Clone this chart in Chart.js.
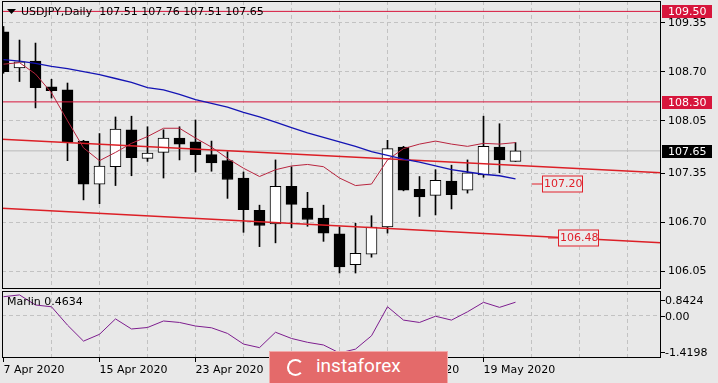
<!DOCTYPE html>
<html>
<head>
<meta charset="utf-8">
<script src="https://cdn.jsdelivr.net/npm/chart.js@4.4.1/dist/chart.umd.min.js"></script>
<style>
  html, body { margin: 0; padding: 0; background: #e8e8e8; }
  #wrap { position: relative; width: 718px; height: 383px; overflow: hidden; background: #e8e8e8; }
  #price { position: absolute; left: 0; top: 0; }
  #osc { position: absolute; left: 0; top: 289px; }
  #logo { position: absolute; left: 269px; top: 351px; width: 179px; height: 33px; box-sizing: border-box;
          background: #e46a6a; border: 1px solid #f2a9a9; }
  #logo .ring { position: absolute; left: 17px; top: 7px; width: 13px; height: 13px; border: 2px solid #fff;
                border-radius: 50%; border-right-color: transparent; }
  #logo .txt { position: absolute; left: 46px; top: 3px; color: #fff; font: 19px Roboto, sans-serif; line-height: 22px; }
</style>
</head>
<body>
<div id="wrap">
  <canvas id="price" width="718" height="291"></canvas>
  <canvas id="osc" width="718" height="94"></canvas>
  <div id="logo"><span class="ring"></span><span class="txt">instaforex</span></div>
</div>
<script>
// USDJPY daily, 7 Apr - 21 May 2020
const opens  = [109.23, 108.75, 108.84, 108.50, 108.46, 107.78, 107.21, 107.44, 107.93, 107.55, 107.63,
                107.82, 107.77, 107.60, 107.52, 107.29, 106.86, 106.68, 107.18, 106.89, 106.76, 106.55,
                106.14, 106.28, 106.64, 107.70, 107.14, 107.06, 107.25, 107.13, 107.33, 107.70, 107.51];
const highs  = [109.30, 109.12, 109.08, 108.60, 108.55, 107.79, 107.88, 108.10, 108.11, 107.97, 107.93,
                107.97, 108.06, 107.78, 107.64, 107.37, 106.93, 107.53, 107.44, 107.10, 106.93, 106.64,
                106.69, 106.79, 107.79, 107.71, 107.31, 107.40, 107.46, 107.53, 108.11, 108.01, 107.76];
const lows   = [108.68, 108.57, 108.22, 108.35, 107.52, 107.00, 106.95, 107.19, 107.32, 107.51, 107.29,
                107.53, 107.37, 107.38, 107.02, 106.57, 106.38, 106.43, 106.63, 106.65, 106.45, 106.03,
                106.03, 106.24, 106.56, 107.12, 106.78, 106.80, 106.88, 107.09, 107.30, 107.36, 107.51];
const closes = [108.70, 108.83, 108.49, 108.45, 107.77, 107.21, 107.45, 107.94, 107.56, 107.62, 107.82,
                107.74, 107.60, 107.49, 107.27, 106.87, 106.66, 107.18, 106.94, 106.74, 106.56, 106.11,
                106.29, 106.64, 107.68, 107.13, 107.04, 107.26, 107.07, 107.36, 107.71, 107.53, 107.65];

// moving averages
const maSlow = [108.86, 108.84, 108.81, 108.77, 108.74, 108.70, 108.66, 108.61, 108.56, 108.49, 108.46,
                108.40, 108.33, 108.28, 108.23, 108.16, 108.10, 108.03, 107.96, 107.89, 107.83, 107.77,
                107.71, 107.64, 107.59, 107.54, 107.50, 107.45, 107.40, 107.37, 107.34, 107.32, 107.28];
const maFast = [108.80, 108.82, 108.67, 108.42, 108.05, 107.69, 107.52, 107.63, 107.75, 107.84, 107.95,
                107.95, 107.82, 107.70, 107.55, 107.42, 107.31, 107.40, 107.45, 107.47, 107.44, 107.29,
                107.19, 107.21, 107.53, 107.68, 107.74, 107.78, 107.74, 107.71, 107.75, 107.74, 107.76];

// Marlin oscillator
const marlin = [0.65, 0.71, 0.37, 0.31, -0.31, -0.85, -0.62, -0.10, -0.44, -0.39, -0.17,
                -0.22, -0.34, -0.40, -0.59, -0.95, -1.07, -0.55, -0.76, -0.89, -0.98, -1.25,
                -1.12, -0.67, 0.31, -0.14, -0.22, -0.01, -0.14, 0.14, 0.46, 0.29, 0.4634];

const priceTicks = [106.05, 106.70, 107.35, 108.05, 108.70, 109.35];
const marlinTicks = [0.8424, 0, -1.4198];
const dateTickIdx = [0, 6, 12, 18, 24, 30];
const dateTickText = ['7 Apr 2020', '15 Apr 2020', '23 Apr 2020', '1 May 2020', '11 May 2020', '19 May 2020'];

const levels = [109.50, 108.30];
const lastPrice = 107.65;
const trendIdx = [-1, 42];
const upperTrend = [107.813, 107.351];
const lowerTrend = [106.898, 106.423];
const lineLabels = ['107.20', '106.48'];

const FONT = 'DejaVu Sans';
const X_MIN = -0.09375, X_MAX = 41.09375;
const GRID = '#c2c2c2';
const CRIMSON = '#d7163c';

Chart.defaults.font.family = FONT;
Chart.defaults.font.size = 11;
Chart.defaults.color = '#000';

const idx = opens.map((_, i) => i);
const gridIdx = [];
for (let i = 0; i <= 39; i += 3) gridIdx.push(i);

const flat = v => [{ x: X_MIN - 1, y: v }, { x: X_MAX + 1, y: v }];
const lineDs = (data, color, width, order) => ({
    type: 'line', data, borderColor: color, borderWidth: width,
    pointRadius: 0, tension: 0, order
});

// frame round the plot area
const framePlugin = {
    id: 'frame',
    afterDraw(chart) {
        const { ctx, chartArea: a } = chart;
        ctx.save();
        ctx.strokeStyle = '#000';
        ctx.lineWidth = 1;
        ctx.strokeRect(Math.round(a.left) + 0.5, Math.round(a.top) + 0.5,
            Math.round(a.right - a.left) - 1, Math.round(a.bottom - a.top) - 1);
        ctx.restore();
    }
};

const priceOverlay = {
    id: 'priceOverlay',
    afterDraw(chart) {
        const { ctx, chartArea: a, scales: { x, y } } = chart;
        ctx.save();
        ctx.font = '11px "' + FONT + '"';
        ctx.textBaseline = 'middle';

        // header
        ctx.fillStyle = '#000';
        ctx.beginPath();
        ctx.moveTo(7, 9); ctx.lineTo(16, 9); ctx.lineTo(11.5, 14); ctx.closePath();
        ctx.fill();
        const n = opens.length - 1;
        const ohlc = [opens[n], highs[n], lows[n], closes[n]].map(v => v.toFixed(2)).join(' ');
        ctx.fillText('USDJPY,Daily  ' + ohlc, 21, 12);

        // labels on the trend lines
        const spots = [33.0, 34.0];
        lineLabels.forEach((t, k) => {
            const x0 = Math.round(x.getPixelForValue(spots[k]));
            const py = Math.round(y.getPixelForValue(parseFloat(t))) - 1.5;
            ctx.strokeStyle = '#e0202a';
            ctx.lineWidth = 1;
            ctx.beginPath();
            ctx.moveTo(x0, py + 0.5); ctx.lineTo(x0 + 10, py + 0.5);
            ctx.stroke();
            ctx.fillStyle = '#ebebeb';
            ctx.fillRect(x0 + 10, py - 7, 40, 16);
            ctx.strokeRect(x0 + 10.5, py - 7.5, 40, 16);
            ctx.fillStyle = '#e0202a';
            ctx.fillText(t, x0 + 12, py + 1);
        });

        // price tags on the axis
        const tags = [[levels[0], CRIMSON], [levels[1], CRIMSON], [lastPrice, '#000']];
        tags.forEach(([v, bg]) => {
            const py = Math.round(y.getPixelForValue(v));
            ctx.fillStyle = bg;
            ctx.fillRect(a.right + 1, py - 6, 50, 13);
            ctx.fillStyle = '#fff';
            ctx.fillText(v.toFixed(2), a.right + 7, py + 1);
        });
        ctx.restore();
    }
};

const oscOverlay = {
    id: 'oscOverlay',
    afterDraw(chart) {
        const { ctx, chartArea: a, scales: { y } } = chart;
        ctx.save();
        ctx.font = '11px "' + FONT + '"';
        ctx.textBaseline = 'middle';
        ctx.fillStyle = '#000';
        ctx.fillText('Marlin ' + marlin[marlin.length - 1].toFixed(4), a.left + 5, a.top + 11);
        ctx.strokeStyle = '#000';
        marlinTicks.forEach(v => {
            let py = y.getPixelForValue(v);
            py = Math.round(Math.min(Math.max(py, a.top + 9), a.bottom - 6));
            ctx.beginPath();
            ctx.moveTo(a.right, py + 0.5); ctx.lineTo(a.right + 4, py + 0.5);
            ctx.stroke();
            ctx.fillText(v === 0 ? '0.00' : v.toFixed(4), a.right + 4, py + 1);
        });
        ctx.restore();
    }
};

// main price panel
new Chart(document.getElementById('price'), {
    type: 'bar',
    data: {
        datasets: [
            lineDs(flat(lastPrice), '#b9b9b9', 1, 9),
            {
                label: 'wick', order: 8, grouped: false, barThickness: 1,
                data: idx.map(i => ({ x: i, y: [lows[i], highs[i]] })),
                backgroundColor: '#000'
            },
            {
                label: 'body', order: 7, grouped: false, barThickness: 11,
                data: idx.map(i => ({ x: i, y: [opens[i], closes[i]] })),
                backgroundColor: idx.map(i => closes[i] >= opens[i] ? '#fff' : '#000'),
                borderColor: '#000', borderWidth: 1, borderSkipped: false
            },
            lineDs(flat(levels[0]), CRIMSON, 1, 3),
            lineDs(flat(levels[1]), CRIMSON, 1, 3),
            lineDs(trendIdx.map((t, k) => ({ x: t, y: upperTrend[k] })), '#dc1f26', 1.5, 2),
            lineDs(trendIdx.map((t, k) => ({ x: t, y: lowerTrend[k] })), '#dc1f26', 1.5, 2),
            lineDs(idx.map(i => ({ x: i, y: maSlow[i] })), '#1414b4', 1.3, 1),
            lineDs(idx.map(i => ({ x: i, y: maFast[i] })), '#b8243e', 1, 1)
        ]
    },
    options: {
        responsive: false,
        animation: false,
        devicePixelRatio: 1,
        layout: { padding: { left: 2, top: 1, right: 0, bottom: 2 } },
        plugins: { legend: { display: false }, tooltip: { enabled: false } },
        scales: {
            x: {
                type: 'linear', min: X_MIN, max: X_MAX, offset: false,
                afterBuildTicks: s => { s.ticks = gridIdx.map(v => ({ value: v })); },
                afterFit: s => { s.height = 0; s.paddingLeft = 0; s.paddingRight = 0; },
                ticks: { display: false },
                grid: { offset: false, drawTicks: false, color: c => (c.tick && c.tick.value === 0) ? 'rgba(0,0,0,0)' : GRID },
                border: { display: false, dash: [4, 3] }
            },
            y: {
                type: 'linear', position: 'right', min: 105.818, max: 109.638,
                afterBuildTicks: s => { s.ticks = priceTicks.map(v => ({ value: v })); },
                afterFit: s => { s.width = 57; s.paddingTop = 0; s.paddingBottom = 0; },
                ticks: { padding: 3, color: '#000', font: { family: FONT, size: 11 }, callback: v => v.toFixed(2) },
                grid: { color: GRID, tickColor: '#000', tickLength: 4, tickWidth: 1 },
                border: { display: false, dash: [4, 3] }
            }
        }
    },
    plugins: [framePlugin, priceOverlay]
});

// Marlin panel
new Chart(document.getElementById('osc'), {
    type: 'line',
    data: {
        datasets: [lineDs(idx.map(i => ({ x: i, y: marlin[i] })), '#7d1d8e', 1, 1)]
    },
    options: {
        responsive: false,
        animation: false,
        devicePixelRatio: 1,
        layout: { padding: { left: 2, top: 2, right: 0, bottom: 0 } },
        plugins: { legend: { display: false }, tooltip: { enabled: false } },
        scales: {
            x: {
                type: 'linear', min: X_MIN, max: X_MAX, offset: false,
                afterBuildTicks: s => { s.ticks = gridIdx.map(v => ({ value: v })); },
                afterFit: s => { s.height = 25; s.paddingLeft = 0; s.paddingRight = 0; },
                ticks: {
                    autoSkip: false, maxRotation: 0, minRotation: 0, align: 'start', padding: 2,
                    color: '#000', font: { family: FONT, size: 11 },
                    callback: v => { const k = dateTickIdx.indexOf(v); return k >= 0 ? dateTickText[k] : ''; }
                },
                grid: {
                    offset: false, tickLength: 4, tickWidth: 1,
                    color: c => (c.tick && c.tick.value === 0) ? 'rgba(0,0,0,0)' : GRID,
                    tickColor: c => (c.tick && dateTickIdx.includes(c.tick.value)) ? '#000' : 'rgba(0,0,0,0)'
                },
                border: { display: false, dash: [4, 3] }
            },
            y: {
                type: 'linear', position: 'right', min: -1.4198, max: 0.8424,
                afterBuildTicks: s => { s.ticks = [{ value: 0 }]; },
                afterFit: s => { s.width = 57; s.paddingTop = 0; s.paddingBottom = 0; },
                ticks: { display: false },
                grid: { color: GRID, drawTicks: false },
                border: { display: false, dash: [4, 3] }
            }
        }
    },
    plugins: [framePlugin, oscOverlay]
});
</script>
</body>
</html>
